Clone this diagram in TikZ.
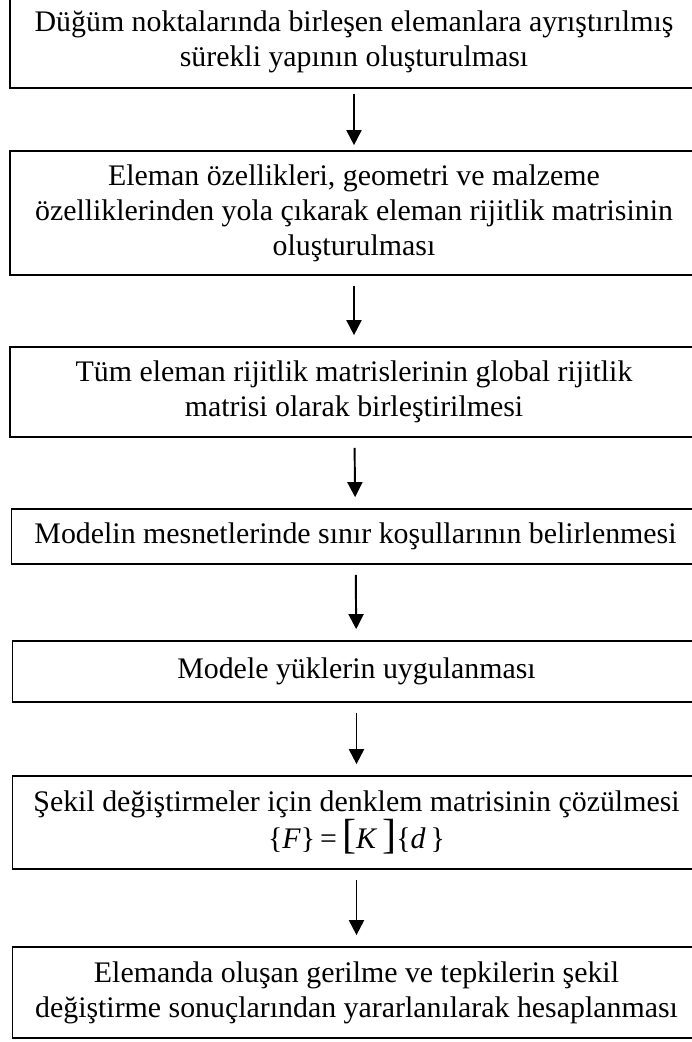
\documentclass[tikz,border=0pt]{standalone}
\usepackage{fontspec}
\setmainfont{Liberation Serif}
\usepackage{tikz}
\usetikzlibrary{arrows.meta}
\usetikzlibrary{positioning}
\tikzset{kutu/.style={draw, line width=1pt, inner sep=0pt, minimum width=13.76cm, align=center},
	ok/.style={-{Triangle[length=0.3cm,width=0.3cm]}, line width=1.1pt, shorten <=0.2cm, shorten >=0.22cm}}

\begin{document}
\begin{tikzpicture}[x=0.02cm,y=-0.02cm]
	\useasboundingbox (0,0) rectangle (692,1042);
	\fontsize{17}{19.9}\selectfont
	\node[kutu, minimum height=1.84cm] (b1) at (354,42){Düğüm noktalarında birleşen elemanlara ayrıştırılmış\\ sürekli yapının oluşturulması};
	\node[kutu, minimum height=2.48cm] (b2) at (354,213){Eleman özellikleri, geometri ve malzeme\\ özelliklerinden yola çıkarak eleman rijitlik matrisinin\\ oluşturulması};
	\node[kutu, minimum height=1.8cm] (b3) at (354,392){Tüm eleman rijitlik matrislerinin global rijitlik\\ matrisi olarak birleştirilmesi};
	\node[kutu, minimum height=1.1cm] (b4) at (355.5,536.5){Modelin mesnetlerinde sınır koşullarının belirlenmesi};
	\node[kutu, minimum height=1.22cm] (b5) at (356.5,671.5){Modele yüklerin uygulanması};
	\node[kutu, minimum height=1.86cm] (b6) at (356.5,822.5){Şekil değiştirmeler için denklem matrisinin çözülmesi\\ \{\textit{F}\}\,=\,{\fontsize{24}{24}\selectfont[}\textit{K}\,{\fontsize{24}{24}\selectfont]}\{\textit{d}\,\}};
	\node[kutu, minimum height=1.82cm] (b7) at (356.5,992.5){Elemanda oluşan gerilme ve tepkilerin şekil\\ değiştirme sonuçlarından yararlanılarak hesaplanması};
	\draw[ok, shorten <=0.1cm, shorten >=0.1cm] (b1) -- (b2);
	\draw[ok] (b2) -- (b3);
	\draw[ok] (b3) -- (b4);
	\draw[ok] (b4) -- (b5);
	\draw[ok] (b5) -- (b6);
	\draw[ok] (b6) -- (b7);
\end{tikzpicture}
\end{document}
